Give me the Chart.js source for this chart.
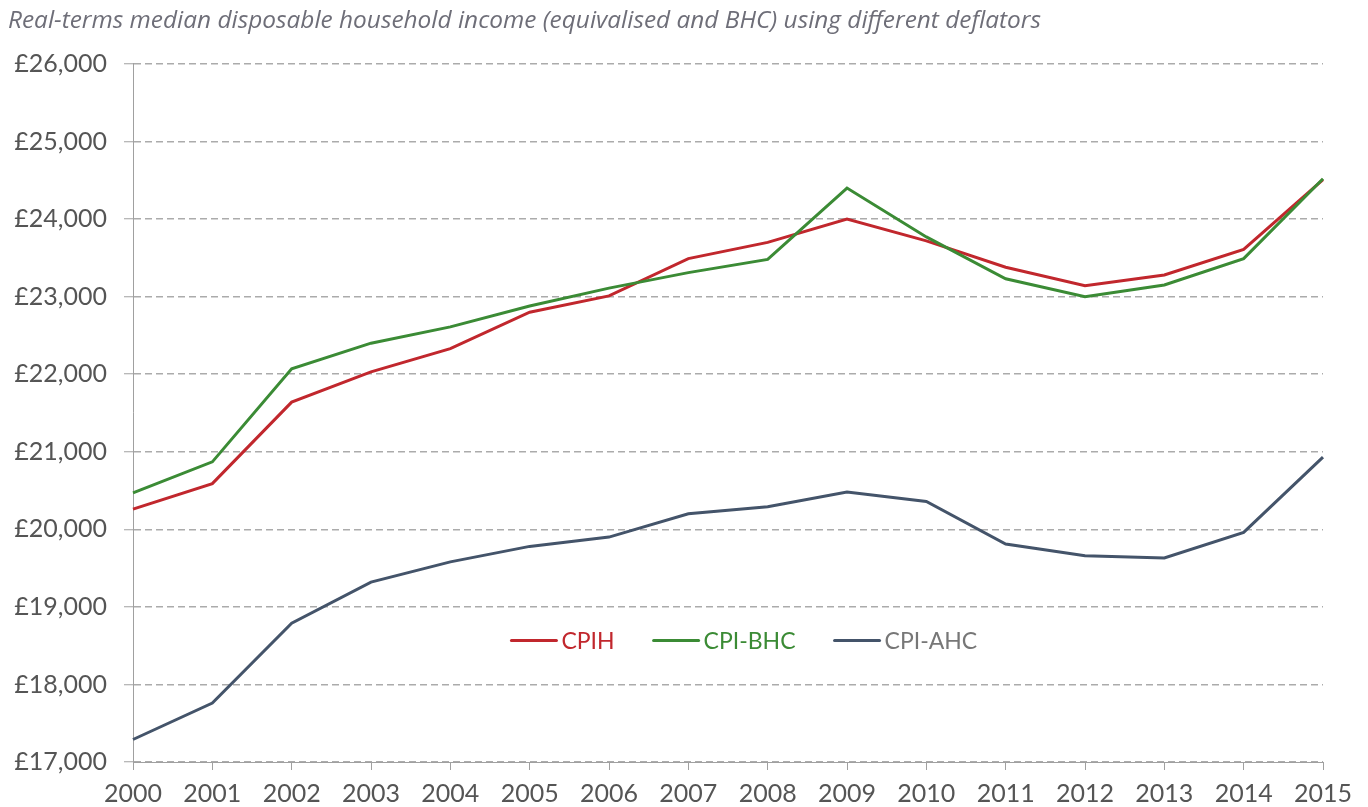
<!DOCTYPE html>
<html>
<head>
<meta charset="utf-8">
<script src="https://cdn.jsdelivr.net/npm/chart.js@4.4.1/dist/chart.umd.min.js"></script>
<style>
  html, body { margin: 0; padding: 0; background: #fff; }
  #wrap { width: 1368px; height: 807px; }
</style>
</head>
<body>
<div id="wrap"><canvas id="incomeChart"></canvas></div>
<script>
const years   = ['2000', '2001', '2002', '2003', '2004', '2005', '2006', '2007',
                 '2008', '2009', '2010', '2011', '2012', '2013', '2014', '2015'];
const cpih    = [20260, 20590, 21640, 22030, 22330, 22800, 23010, 23490,
                 23700, 24000, 23720, 23380, 23140, 23280, 23610, 24510];
const cpiBhc  = [20470, 20870, 22070, 22400, 22610, 22880, 23110, 23310,
                 23480, 24400, 23770, 23230, 23000, 23150, 23490, 24520];
const cpiAhc  = [17290, 17760, 18790, 19320, 19580, 19780, 19900, 20200,
                 20290, 20480, 20360, 19810, 19660, 19630, 19960, 20930];
const yMin = 17000, yMax = 26000, yStep = 1000;
const seriesNames = ['CPIH', 'CPI-BHC', 'CPI-AHC'];
const lineColors  = ['#C1272D', '#3B8B35', '#44546A'];
const labelColors = ['#C1272D', '#3B8B35', '#777777'];
const titleText = 'Real-terms median disposable household income (equivalised and BHC) using different deflators';

const FONT = 'Lato, "Open Sans", sans-serif';

// legend sits inside the plot, below the upper lines
const innerLegend = {
    id: 'innerLegend',
    afterDatasetsDraw(chart) {
        const { ctx, chartArea } = chart;
        let x = chartArea.left + chartArea.width * 0.318;
        const y = chartArea.top + chartArea.height * 0.826;
        ctx.save();
        ctx.font = '23px ' + FONT;
        ctx.textBaseline = 'middle';
        ctx.lineCap = 'round';
        seriesNames.forEach((name, i) => {
            ctx.strokeStyle = lineColors[i];
            ctx.lineWidth = 3;
            ctx.beginPath();
            ctx.moveTo(x, y);
            ctx.lineTo(x + 45, y);
            ctx.stroke();
            x += 50;
            ctx.fillStyle = labelColors[i];
            ctx.fillText(name, x, y + 1);
            x += ctx.measureText(name).width + 39;
        });
        ctx.restore();
    }
};

const ctx = document.getElementById('incomeChart').getContext('2d');
new Chart(ctx, {
    type: 'line',
    data: {
        labels: years,
        datasets: [cpih, cpiBhc, cpiAhc].map((values, i) => ({
            label: seriesNames[i],
            data: values,
            borderColor: lineColors[i],
            backgroundColor: lineColors[i],
            borderWidth: 3,
            pointRadius: 0,
            tension: 0,
            order: i === 1 ? 0 : i + 1
        }))
    },
    options: {
        responsive: true,
        maintainAspectRatio: false,
        animation: false,
        layout: { padding: { left: 8, right: 45, top: 0, bottom: 0 } },
        plugins: {
            legend: { display: false },
            tooltip: { enabled: false },
            title: {
                display: true,
                text: titleText,
                align: 'start',
                color: '#6E6E78',
                font: { family: '"Open Sans", Lato, sans-serif', size: 24.4, style: 'italic', weight: 'normal', lineHeight: 1.2 },
                padding: { top: 6, bottom: 28.7 }
            }
        },
        scales: {
            x: {
                offset: false,
                afterFit: scale => { scale.height = 45; },
                grid: { drawOnChartArea: false, color: '#A0A0A0', tickLength: 8, lineWidth: 1 },
                border: { display: true, color: '#A0A0A0', width: 1 },
                ticks: {
                    color: '#555555',
                    padding: 9,
                    maxRotation: 0,
                    autoSkip: false,
                    font: { family: FONT, size: 25 }
                }
            },
            y: {
                min: yMin,
                max: yMax,
                afterFit: scale => { scale.width = 125; },
                grid: {
                    color: '#ABABAB',
                    lineWidth: 1.5,
                    tickLength: 9,
                    tickColor: '#A0A0A0',
                    tickWidth: 1,
                    tickBorderDash: []
                },
                border: { display: true, color: '#A0A0A0', width: 1, dash: [7, 4] },
                ticks: {
                    stepSize: yStep,
                    color: '#555555',
                    padding: 17,
                    font: { family: FONT, size: 25 },
                    callback: v => '£' + v.toLocaleString('en-GB')
                }
            }
        }
    },
    plugins: [innerLegend]
});
</script>
</body>
</html>
